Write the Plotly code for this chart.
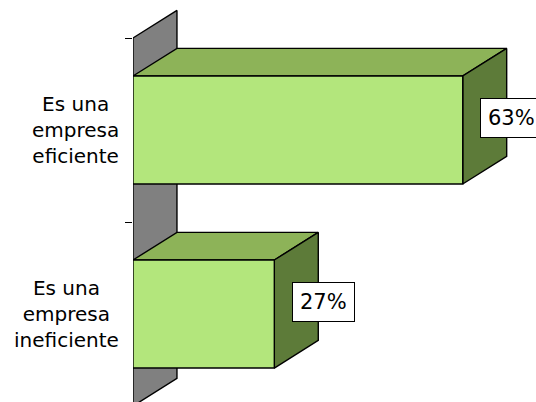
import plotly.graph_objects as go

# Survey answers (bottom to top) and their shares in percent
categories = ["Es una<br>empresa<br>ineficiente", "Es una<br>empresa<br>eficiente"]
values = [27, 63]
value_labels = ["27%", "63%"]

# 3D look: depth offset of the boxes in axis units and half box height
DEPTH_X = 8.4
DEPTH_Y = 0.15
HALF = 0.2935
X_MAX = 77

FRONT = "#B3E67C"
TOP = "#8DB358"
SIDE = "#5D7B39"
WALL = "#808080"

fig = go.Figure()


def face(xs, ys, color):
    fig.add_trace(go.Scatter(
        x=xs + [xs[0]], y=ys + [ys[0]], mode="lines", fill="toself",
        fillcolor=color, line=dict(color="black", width=1.4),
        hoverinfo="skip", showlegend=False,
    ))


# side wall of the 3D plot area
lo, hi = -0.5, len(categories) - 0.5
face([0, 0, DEPTH_X, DEPTH_X], [lo, hi, hi + DEPTH_Y, lo + DEPTH_Y], WALL)

# boxes: top face, right face, front face
for i, v in enumerate(values):
    b, t = i - HALF, i + HALF
    face([0, v, v + DEPTH_X, DEPTH_X], [t, t, t + DEPTH_Y, t + DEPTH_Y], TOP)
    face([v, v, v + DEPTH_X, v + DEPTH_X], [b, t, t + DEPTH_Y, b + DEPTH_Y], SIDE)
    face([0, v, v, 0], [b, b, t, t], FRONT)

font = dict(family="DejaVu Sans, Arial, sans-serif", size=20, color="black")
label_font = dict(family="DejaVu Sans, Arial, sans-serif", size=21, color="black")

for i, (cat, v, lab) in enumerate(zip(categories, values, value_labels)):
    # category names sit left of the axis, in paper units
    fig.add_annotation(x=-2.3 / X_MAX, y=i, xref="paper", yref="y", text=cat,
                       showarrow=False, xanchor="right", yanchor="middle",
                       align="center", font=font)
    fig.add_annotation(x=v + DEPTH_X + 1, y=i + DEPTH_Y * 0.45, xref="x", yref="y",
                       text=lab, showarrow=False, xanchor="center", yanchor="middle",
                       bgcolor="white", bordercolor="black", borderwidth=1,
                       borderpad=7, font=label_font)

fig.update_layout(
    width=536, height=402, autosize=False,
    margin=dict(l=133, r=0, t=0, b=0),
    paper_bgcolor="white", plot_bgcolor="white",
    xaxis=dict(range=[0, X_MAX], visible=False, fixedrange=True),
    yaxis=dict(range=[-0.478, 1.7065], showgrid=False, zeroline=False,
               showline=False, tickvals=[-0.5, 0.5, 1.5], ticks="outside",
               ticklen=7, tickcolor="black", tickwidth=1,
               showticklabels=False, fixedrange=True),
)

fig.write_html("out.html")
